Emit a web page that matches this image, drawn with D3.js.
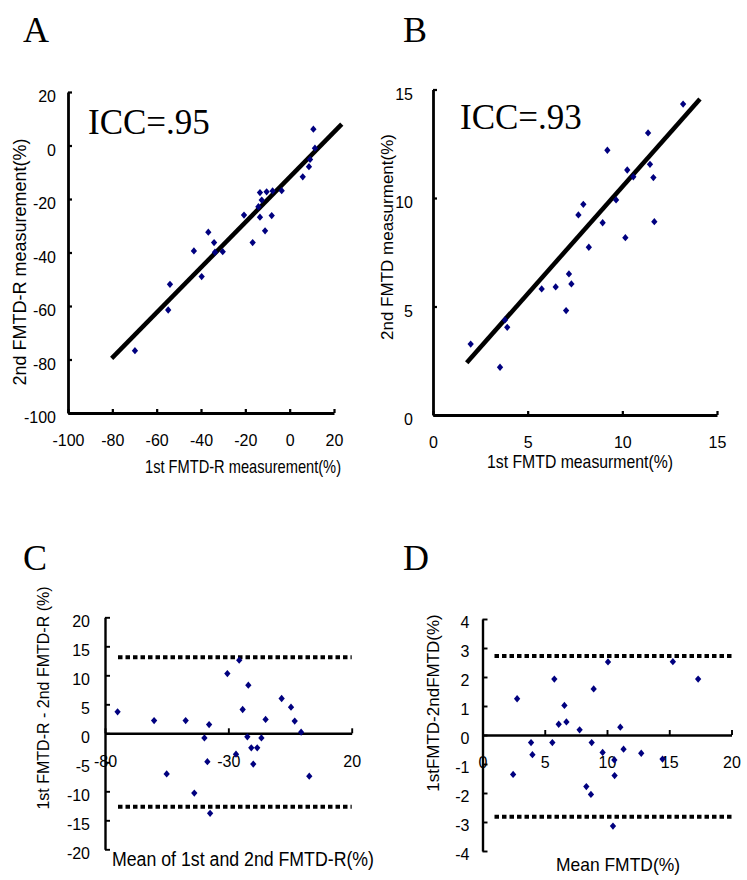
<!DOCTYPE html>
<html><head><meta charset="utf-8">
<script src="https://cdn.jsdelivr.net/npm/d3@7"></script>
<style>body{margin:0;background:#fff}</style>
</head><body>
<svg id="c" width="747" height="880"></svg>
<script>
// ---------- data ----------
const panelLetters = ["A", "B", "C", "D"];
const iccLabels = ["ICC=.95", "ICC=.93"];

// Panel A: FMTD-R, 1st vs 2nd measurement (%)
const aFirst  = [10.7, 11.4, 9.2, 8.7, 5.9, -13.4, -10.4, -7.7, -3.6, -12.6, -14.1, -20.6, -13.4,
                 -8.1, -11.1, -16.7, -36.7, -34.1, -43.2, -33.7, -30.2, -39.7, -54.0, -54.8, -69.8];
const aSecond = [6.1, -1.0, -5.2, -7.9, -11.7, -17.6, -17.3, -17.0, -16.9, -20.4, -22.9, -26.0, -26.8,
                 -26.2, -31.9, -36.3, -32.4, -36.3, -39.4, -39.9, -39.7, -49.0, -51.9, -61.5, -76.7];
const aFitX = [-80.3, 23.5];
const aFitY = [-79.6, 8.0];

// Panel B: FMTD, 1st vs 2nd measurement (%)
const bFirst  = [1.99, 3.54, 3.80, 3.92, 5.74, 6.48, 7.03, 7.18, 7.31, 8.23, 7.68, 7.94, 8.96,
                 9.67, 10.16, 9.21, 10.26, 10.58, 11.46, 11.64, 11.69, 11.36, 13.21];
const bSecond = [3.27, 2.20, 4.38, 4.04, 5.81, 5.90, 4.81, 6.50, 6.04, 7.73, 9.22, 9.71, 8.86,
                 9.91, 8.17, 12.20, 11.29, 10.98, 11.55, 10.94, 8.91, 13.00, 14.33];
const bFitX = [1.78, 14.1];
const bFitY = [2.41, 14.56];

// Panel C: Bland-Altman FMTD-R
const cMean = [-74.9, -60.1, -47.3, -37.8, -39.7, -55.0, -43.8, -38.5, -30.4, -25.6, -21.9, -24.2, -22.3,
               -26.9, -20.7, -18.3, -19.9, -16.6, -14.9, -8.4, -4.6, -3.1, -0.5, 2.8, -37.4];
const cDiff = [3.7, 2.2, 2.2, 1.5, -0.8, -7.0, -10.3, -4.9, 10.3, 12.6, 8.3, 4.1, -0.6,
               -3.6, -2.5, -2.5, -5.3, -0.8, 2.4, 6.0, 4.5, 2.1, 0.2, -7.4, -13.8];
const cLimits = [13.1, -12.65];

// Panel D: Bland-Altman FMTD
const dMean = [2.78, 2.46, 3.90, 4.01, 5.77, 5.61, 6.12, 6.74, 6.58, 7.80, 8.77, 8.34, 8.71,
               8.93, 9.65, 10.08, 10.59, 10.61, 11.07, 11.33, 12.75, 14.46, 15.29, 17.32, 10.48];
const dDiff = [1.25, -1.36, -0.26, -0.68, 1.93, -0.26, 0.37, 0.45, 1.02, 0.18, -0.26, -1.78, -2.05,
               1.59, -0.60, 2.52, -0.86, -1.40, 0.27, -0.49, -0.63, -0.83, 2.53, 1.93, -3.14];
const dLimits = [2.72, -2.82];

// tick labels
const aTicks = [-100, -80, -60, -40, -20, 0, 20];
const bTicks = [0, 5, 10, 15];
const cXTicks = [-80, -30, 20];
const cYTicks = [-20, -15, -10, -5, 0, 5, 10, 15, 20];
const dXTicks = [0, 5, 10, 15, 20];
const dYTicks = [-4, -3, -2, -1, 0, 1, 2, 3, 4];

const titles = {
  ax: "1st FMTD-R measurement(%)", ay: "2nd FMTD-R measurement(%)",
  bx: "1st FMTD measurment(%)",   by: "2nd FMTD measurment(%)",
  cx: "Mean of 1st and 2nd FMTD-R(%)", cy: "1st FMTD-R - 2nd FMTD-R (%)",
  dx: "Mean FMTD(%)", dy: "1stFMTD-2ndFMTD(%)"
};

// ---------- drawing ----------
const SANS = "'Liberation Sans', Arial, Helvetica, sans-serif";
const SERIF = "'Liberation Serif', 'Times New Roman', serif";
const MARK = "#00007f";
const svg = d3.select("#c");

const diamondType = {
  draw(ctx, size) {
    const r = Math.sqrt(size) / 2;
    ctx.moveTo(0, -r * 1.1); ctx.lineTo(r * 0.95, 0); ctx.lineTo(0, r * 1.1); ctx.lineTo(-r * 0.95, 0); ctx.closePath();
  }
};
const sym = d3.symbol().type(diamondType).size(44);
const fmt = d => String(d);

function styleAxis(g, fs, width) {
  g.attr("font-family", SANS).attr("font-size", fs);
  g.select(".domain").attr("stroke", "#000").attr("stroke-width", width);
  g.selectAll(".tick line").attr("stroke", "#000").attr("stroke-width", width * 0.8);
  g.selectAll(".tick text").attr("fill", "#000");
}

function points(g, x, y, xs, ys) {
  g.append("g").selectAll("path").data(xs.map((v, i) => [v, ys[i]])).join("path")
    .attr("transform", d => `translate(${x(d[0])},${y(d[1])})`)
    .attr("d", sym).attr("fill", MARK);
}

function title(g, t, pos, rotate, anchor) {
  const el = g.append("text")
    .attr("transform", `translate(${pos[0]},${pos[1]})` + (rotate ? " rotate(-90)" : ""))
    .attr("text-anchor", anchor || "middle").attr("font-family", SANS).attr("font-size", pos[2]).text(t);
  if (pos[3]) el.attr("textLength", pos[3]).attr("lengthAdjust", "spacingAndGlyphs");
  return el;
}

function scatterPanel(cfg) {
  const g = svg.append("g");
  const x = d3.scaleLinear().domain(cfg.xDomain).range(cfg.xRange);
  const y = d3.scaleLinear().domain(cfg.yDomain).range(cfg.yRange);
  const ya = g.append("g").attr("transform", `translate(${cfg.xRange[0]},0)`)
    .call(d3.axisLeft(y).tickValues(cfg.ticks).tickFormat(fmt).tickSizeInner(-4).tickSizeOuter(0).tickPadding(cfg.yPad));
  styleAxis(ya, 16, 2.8);
  ya.selectAll(".tick text").attr("dy", "0.6em");
  const xa = g.append("g").attr("transform", `translate(0,${cfg.yRange[0]})`)
    .call(d3.axisBottom(x).tickValues(cfg.ticks).tickFormat(fmt).tickSizeInner(-4).tickSizeOuter(0).tickPadding(22));
  styleAxis(xa, 16, 2.8);
  g.append("path").datum(cfg.fitX.map((v, i) => [v, cfg.fitY[i]]))
    .attr("d", d3.line().x(d => x(d[0])).y(d => y(d[1])))
    .attr("stroke", "#000").attr("stroke-width", 4.5).attr("fill", "none");
  points(g, x, y, cfg.xs, cfg.ys);
  g.append("text").attr("x", cfg.iccX).attr("y", cfg.iccY).attr("font-family", SERIF)
    .attr("font-size", 35).text(cfg.icc);
  title(g, cfg.xt, cfg.xTitle, false);
  title(g, cfg.yt, cfg.yTitle, true);
}

function baPanel(cfg) {
  const g = svg.append("g");
  const x = d3.scaleLinear().domain(cfg.xDomain).range(cfg.xRange);
  const y = d3.scaleLinear().domain(cfg.yDomain).range(cfg.yRange);
  const ya = g.append("g").attr("transform", `translate(${cfg.xRange[0]},0)`)
    .call(d3.axisLeft(y).tickValues(cfg.yTicks).tickFormat(fmt).tickSizeInner(-5).tickSizeOuter(0).tickPadding(cfg.yPad));
  styleAxis(ya, 16, 2.4);
  ya.selectAll(".tick text").attr("dy", "0.55em");
  const xa = g.append("g").attr("transform", `translate(0,${y(0)})`)
    .call(d3.axisBottom(x).tickValues(cfg.xTicks).tickFormat(fmt).tickSizeInner(-5).tickSizeOuter(0).tickPadding(22));
  styleAxis(xa, 16, 2.4);
  g.append("g").selectAll("line").data(cfg.limits).join("line")
    .attr("x1", cfg.xRange[0] + cfg.dotStart).attr("x2", cfg.xRange[1])
    .attr("y1", d => y(d)).attr("y2", d => y(d))
    .attr("stroke", "#000").attr("stroke-width", 4).attr("stroke-dasharray", "4.5,3");
  points(g, x, y, cfg.xs, cfg.ys);
  title(g, cfg.xt, cfg.xTitle, false, cfg.xAnchor);
  title(g, cfg.yt, cfg.yTitle, true);
}

scatterPanel({
  xDomain: [-100, 20], xRange: [68, 334], yDomain: [-100, 20], yRange: [413, 92],
  ticks: aTicks, yPad: 12, xs: aFirst, ys: aSecond, fitX: aFitX, fitY: aFitY,
  icc: iccLabels[0], iccX: 88, iccY: 134, xt: titles.ax, yt: titles.ay,
  xTitle: [243, 473, 19, 196], yTitle: [26, 262, 18]
});
scatterPanel({
  xDomain: [0, 15], xRange: [433, 717], yDomain: [0, 15], yRange: [415, 89.5],
  ticks: bTicks, yPad: 20, xs: bFirst, ys: bSecond, fitX: bFitX, fitY: bFitY,
  icc: iccLabels[1], iccX: 460, iccY: 129, xt: titles.bx, yt: titles.by,
  xTitle: [580, 468, 19, 186], yTitle: [393, 237, 17]
});
baPanel({
  xDomain: [-80, 20], xRange: [105, 351.7], yDomain: [-20, 20], yRange: [849.3, 617.3],
  xTicks: cXTicks, yTicks: cYTicks, yPad: 15, xs: cMean, ys: cDiff, limits: cLimits, dotStart: 13,
  xt: titles.cx, yt: titles.cy, xAnchor: "start", xTitle: [112, 866, 19.5, 262], yTitle: [49, 698, 16]
});
baPanel({
  xDomain: [0, 20], xRange: [482.5, 731.5], yDomain: [-4, 4], yRange: [851, 619],
  xTicks: dXTicks, yTicks: dYTicks, yPad: 13, xs: dMean, ys: dDiff, limits: dLimits, dotStart: 12,
  xt: titles.dx, yt: titles.dy, xTitle: [618, 871, 18.5, 124], yTitle: [439, 703, 17]
});

const letterPos = [[23, 42], [403, 42], [23, 570], [403, 570]];
svg.append("g").selectAll("text").data(panelLetters).join("text")
  .attr("x", (d, i) => letterPos[i][0]).attr("y", (d, i) => letterPos[i][1])
  .attr("font-family", SERIF).attr("font-size", 36).text(d => d);
</script>
</body></html>
